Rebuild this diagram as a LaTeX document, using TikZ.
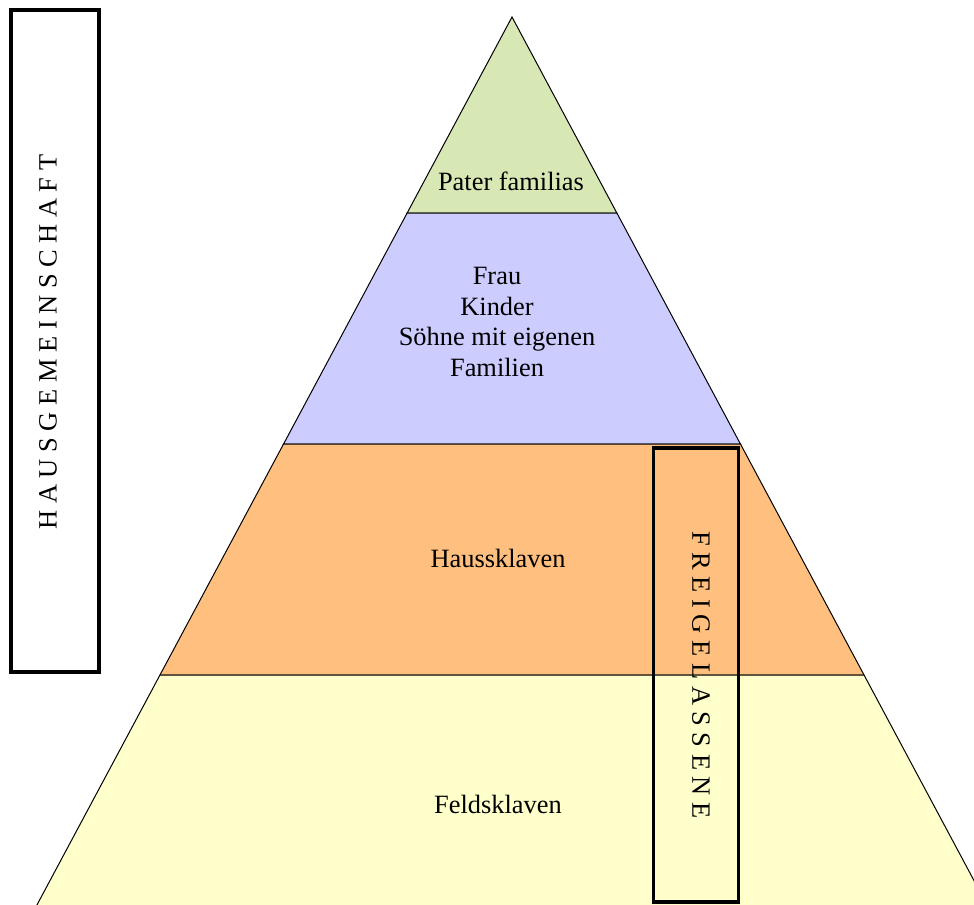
\documentclass[tikz,border=0pt]{standalone}
\usepackage{fontspec}
\setmainfont{Liberation Serif}
\definecolor{paterfill}{RGB}{215,232,181}
\definecolor{familyfill}{RGB}{204,204,255}
\definecolor{hausfill}{RGB}{255,191,127}
\definecolor{feldfill}{RGB}{255,255,204}
\tikzset{
  layer/.style={draw=black, line width=0.75pt},
  layertext/.style={font=\fontsize{19.8}{22.9}\selectfont, align=center},
  groupbox/.style={draw=black, line width=2.6pt},
}
\begin{document}
\begin{tikzpicture}[x=0.75pt,y=-0.75pt]
      \useasboundingbox (0,0) rectangle (974,904);
      \clip (0,0) rectangle (974,904);
      % pyramid layers, top to bottom
      \foreach \ytop/\ybot/\col in {17/213/paterfill, 213/444/familyfill, 444/675/hausfill, 675/935/feldfill}
        \path[layer, fill=\col] ({512-0.535*(\ytop-17)},\ytop) -- ({512+0.535*(\ytop-17)},\ytop)
          -- ({512+0.535*(\ybot-17)},\ybot) -- ({512-0.535*(\ybot-17)},\ybot) -- cycle;
      \node[layertext] (pater) at (511,181) {Pater familias};
      \node[layertext] (familie) at (497,322) {Frau\\Kinder\\Söhne mit eigenen\\Familien};
      \node[layertext] (haus) at (498,558) {Haussklaven};
      \node[layertext] (feld) at (498,804) {Feldsklaven};
      % groups
      \node[groupbox, minimum width=66pt, minimum height=496.5pt] (hausgemeinschaft) at (55,341) {};
      \node[layertext, rotate=90] (hglabel) at (48,342) {H A U S G E M E I N S C H A F T};
      \node[groupbox, minimum width=63.75pt, minimum height=340.5pt] (freigelassene) at (696,675) {};
      \node[layertext, rotate=-90] (fglabel) at (701,675) {F R E I G E L A S S E N E};
\end{tikzpicture}
\end{document}
